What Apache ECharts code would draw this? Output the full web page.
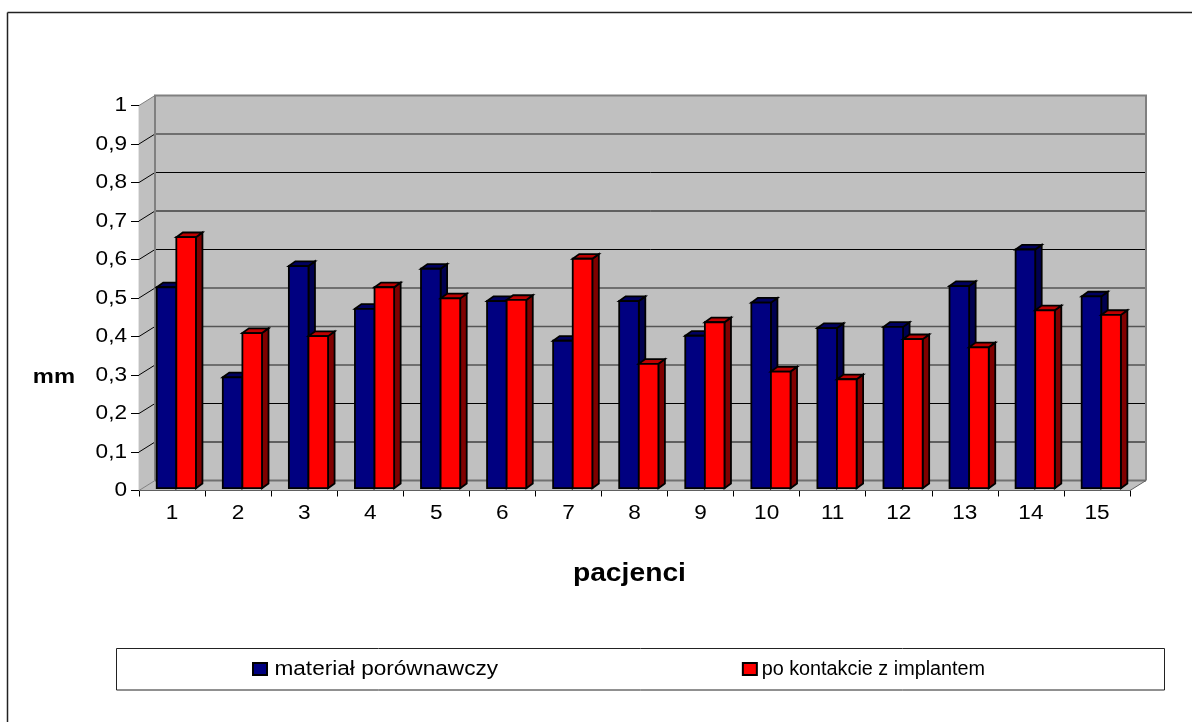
<!DOCTYPE html>
<html>
<head>
<meta charset="utf-8">
<style>html,body{margin:0;padding:0;background:#fff}#chart{width:1192px;height:722px}</style>
<script src="https://cdn.jsdelivr.net/npm/echarts@6/dist/echarts.min.js"></script>
</head>
<body>
<div id="chart"></div>
<script>
// Thickness of bone layer per patient, before and after implant contact.
const patients = ['1','2','3','4','5','6','7','8','9','10','11','12','13','14','15'];
const materialPorownawczy = [0.522,0.288,0.577,0.466,0.570,0.486,0.383,0.486,0.396,0.482,0.416,0.419,0.525,0.620,0.498];
const poKontakcie = [0.652,0.403,0.395,0.522,0.493,0.489,0.596,0.323,0.431,0.303,0.283,0.387,0.366,0.462,0.450];
const valueTicks = [0,0.1,0.2,0.3,0.4,0.5,0.6,0.7,0.8,0.9,1];
const heavyRules = [0,0.3,0.4,0.5,0.9];

// Oblique projection used for the pseudo-3D box.
const WALL_DX = 16, WALL_DY = -10;      // front plane to back wall
const BAR_INSET_DX = 4.3, BAR_INSET_DY = -2.3; // front plane to bar face
const BAR_DX = 6.5, BAR_DY = -4.7;      // bar depth
const BAR_W = 19.6;
const SERIES_NAMES = ['materiał porównawczy','po kontakcie z implantem'];
const FONT = '"Liberation Sans", Arial, sans-serif';
const TEXT_STRETCH = 1.13;              // chart text is set slightly wide
const LAST_LEGEND_STRETCH = 0.99;       // the second legend entry keeps its natural width

function renderWall(params, api) {
  if (params.dataIndex !== 0) { return null; }
  const c = params.coordSys;
  const x0 = c.x, x1 = c.x + c.width, yTop = c.y, yBot = c.y + c.height;
  const children = [
    {type:'polygon', shape:{points:[[x0,yBot],[x0+WALL_DX,yBot+WALL_DY],[x0+WALL_DX,yTop+WALL_DY],[x0,yTop]]}, style:{fill:'#c0c0c0'}},
    {type:'polygon', shape:{points:[[x0,yBot],[x1,yBot],[x1+WALL_DX,yBot+WALL_DY],[x0+WALL_DX,yBot+WALL_DY]]}, style:{fill:'#c0c0c0'}},
    {type:'rect', shape:{x:x0+WALL_DX,y:yTop+WALL_DY,width:c.width,height:c.height}, style:{fill:'#c0c0c0'}}
  ];
  valueTicks.forEach(function (t) {
    const y = api.coord([0, t])[1];
    const heavy = heavyRules.indexOf(t) >= 0;
    if (t > 0 && t < 1) {
      children.push({type:'line', shape:{x1:x0+WALL_DX,y1:y+WALL_DY,x2:x1+WALL_DX,y2:y+WALL_DY},
        style:{stroke: heavy ? '#555555' : '#000000', lineWidth: heavy ? 1.6 : 1}});
    }
    const edge = (t === 0 || t === 1);
    children.push({type:'line', shape:{x1:x0,y1:y,x2:x0+WALL_DX,y2:y+WALL_DY},
      style:{stroke: edge ? '#808080' : '#000000', lineWidth: 1}});
  });
  const gray = {stroke:'#808080', lineWidth:2, fill:null};
  children.push({type:'polyline', shape:{points:[[x0+WALL_DX,yBot+WALL_DY],[x0+WALL_DX,yTop+WALL_DY],[x1+WALL_DX,yTop+WALL_DY],[x1+WALL_DX,yBot+WALL_DY]]}, style:gray});
  children.push({type:'line', shape:{x1:x0+WALL_DX,y1:yBot+WALL_DY,x2:x1+WALL_DX,y2:yBot+WALL_DY}, style:{stroke:'#707070',lineWidth:2}});
  children.push({type:'line', shape:{x1:x1,y1:yBot,x2:x1+WALL_DX,y2:yBot+WALL_DY}, style:{stroke:'#606060',lineWidth:1}});
  return {type:'group', children:children};
}

function barRenderer(slot, front, top, side) {
  return function (params, api) {
    const center = api.coord([api.value(0), 0])[0];
    const base = api.coord([api.value(0), 0])[1] + BAR_INSET_DY;
    const y = api.coord([api.value(0), api.value(1)])[1] + BAR_INSET_DY;
    const x = center + BAR_INSET_DX + (slot - 1) * BAR_W;
    const r = x + BAR_W;
    const edge = {stroke:'#000000', lineWidth:1.8, lineJoin:'miter'};
    return {type:'group', children:[
      {type:'polygon', shape:{points:[[r,base],[r+BAR_DX,base+BAR_DY],[r+BAR_DX,y+BAR_DY],[r,y]]}, style:Object.assign({fill:side},edge)},
      {type:'polygon', shape:{points:[[x,y],[x+BAR_DX,y+BAR_DY],[r+BAR_DX,y+BAR_DY],[r,y]]}, style:Object.assign({fill:top},edge)},
      {type:'rect', shape:{x:x,y:y,width:BAR_W,height:base-y}, style:Object.assign({fill:front},edge)}
    ]};
  };
}

const chart = echarts.init(document.getElementById('chart'), null, {renderer:'canvas'});
chart.setOption({
  animation:false,
  backgroundColor:'#ffffff',
  textStyle:{fontFamily:FONT},
  grid:{left:139, top:105.5, width:991, height:385, containLabel:false},
  xAxis:{type:'category', data:patients, name:'pacjenci', nameLocation:'middle', nameGap:71,
    nameTextStyle:{fontFamily:FONT,fontWeight:'bold',fontSize:25,color:'#000',padding:[0,9,0,0]},
    boundaryGap:true,
    axisLine:{lineStyle:{color:'#000',width:1.2}},
    axisTick:{show:true,length:6,alignWithLabel:false,lineStyle:{color:'#000',width:1}},
    axisLabel:{fontFamily:FONT,fontSize:20,color:'#000',margin:13},
    splitLine:{show:false}},
  yAxis:{type:'value', min:0, max:1, interval:0.1, name:'mm', nameLocation:'middle', nameGap:64, nameRotate:0,
    nameTextStyle:{fontFamily:FONT,fontWeight:'bold',fontSize:21,color:'#000',verticalAlign:'top',padding:[69,0,0,0]},
    axisLine:{show:true,lineStyle:{color:'#000',width:1.2}},
    axisTick:{show:true,length:8,lineStyle:{color:'#000',width:1}},
    axisLabel:{fontFamily:FONT,fontSize:20,color:'#000',margin:12,
      formatter:function(v){return String(v).replace('.',',');}},
    splitLine:{show:false}},
  legend:{left:252, top:659, padding:0, itemWidth:14, itemHeight:12, itemGap:272, icon:'rect',
    data:SERIES_NAMES,
    textStyle:{fontFamily:FONT,fontSize:20,color:'#000'}},
  graphic:[
    {type:'line', silent:true, z:-1, shape:{x1:7.5,y1:12.5,x2:1192,y2:12.5}, style:{stroke:'#222',lineWidth:1.5}},
    {type:'line', silent:true, z:-1, shape:{x1:7.5,y1:12.5,x2:7.5,y2:722}, style:{stroke:'#222',lineWidth:1.5}},
    {type:'rect', silent:true, z:-1, shape:{x:116.5,y:648.5,width:1048,height:41.5}, style:{fill:'#fff',stroke:'#222',lineWidth:1}}
  ],
  series:[
    {type:'custom', name:'wall', silent:true, z:1, data:[0], encode:{x:0,y:0}, renderItem:renderWall, clip:false},
    {type:'custom', name:SERIES_NAMES[0], z:2, clip:false, color:'#000080',
     itemStyle:{color:'#000080',borderColor:'#000',borderWidth:1},
     encode:{x:0,y:1},
     data:patients.map(function(p,i){return [i,materialPorownawczy[i]];}),
     renderItem:barRenderer(0,'#000080','#000060','#000050')},
    {type:'custom', name:SERIES_NAMES[1], z:3, clip:false, color:'#ff0000',
     itemStyle:{color:'#ff0000',borderColor:'#000',borderWidth:1},
     encode:{x:0,y:1},
     data:patients.map(function(p,i){return [i,poKontakcie[i]];}),
     renderItem:barRenderer(1,'#ff0000','#c00000','#800000')}
  ]
});

// Widen each text element about its own anchor point.
const zr = chart.getZr();
zr.storage.traverse(function (el) {
  if (el.type === 'text') {
    el.scaleX = el.style.text === SERIES_NAMES[1] ? LAST_LEGEND_STRETCH : TEXT_STRETCH;
    el.dirty();
  }
});
zr.refreshImmediately();
</script>
</body>
</html>
